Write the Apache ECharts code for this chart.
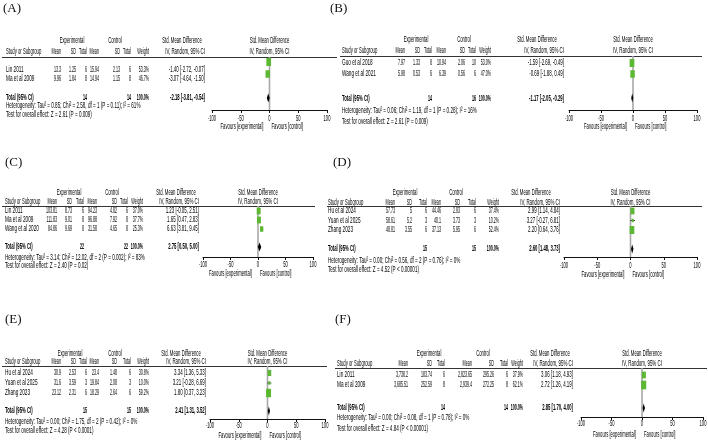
<!DOCTYPE html>
<html>
<head>
<meta charset="utf-8">
<script src="https://cdn.jsdelivr.net/npm/echarts@6/dist/echarts.min.js"></script>
<style>
  html, body { margin: 0; padding: 0; background: #fff; }
  #main { width: 708px; height: 440px; }
</style>
</head>
<body>
<div id="main"></div>
<script>
// ---- data ----
// (A)
const studiesA = ['Lin 2011', 'Ma et al 2009'];
const expA = [['13.3', '1.25', '6'], ['9.96', '1.84', '8']];
const ctlA = [['15.94', '2.13', '6'], ['14.94', '1.15', '8']];
const weightA = [53.3, 46.7];
const smdA = [[-1.40, -2.72, -0.07], [-3.07, -4.64, -1.50]];
const totalA = ['14', '14', -2.18, -3.81, -0.54];
const statsA = ['Heterogeneity: Tau² = 0.85; Chi² = 2.58, df = 1 (P = 0.11); I² = 61%', 'Test for overall effect: Z = 2.61 (P = 0.009)'];
// (B)
const studiesB = ['Guo et al 2018', 'Wang et al 2021'];
const expB = [['7.97', '1.33', '8'], ['5.98', '0.53', '6']];
const ctlB = [['10.94', '2.06', '10'], ['6.39', '0.56', '6']];
const weightB = [53.0, 47.0];
const smdB = [[-1.59, -2.69, -0.49], [-0.69, -1.88, 0.49]];
const totalB = ['14', '16', -1.17, -2.05, -0.29];
const statsB = ['Heterogeneity: Tau² = 0.06; Chi² = 1.19, df = 1 (P = 0.28); I² = 16%', 'Test for overall effect: Z = 2.61 (P = 0.009)'];
// (C)
const studiesC = ['Lin 2011', 'Ma et al 2009', 'Wang et al 2020'];
const expC = [['103.81', '8.73', '6'], ['111.83', '9.01', '8'], ['84.86', '9.69', '8']];
const ctlC = [['94.23', '4.82', '6'], ['96.88', '7.92', '8'], ['31.58', '4.65', '8']];
const weightC = [37.0, 37.7, 25.3];
const smdC = [[1.23, -0.05, 2.51], [1.65, 0.47, 2.83], [6.63, 3.81, 9.45]];
const totalC = ['22', '22', 2.75, 0.50, 5.00];
const statsC = ['Heterogeneity: Tau² = 3.14; Chi² = 12.02, df = 2 (P = 0.002); I² = 83%', 'Test for overall effect: Z = 2.40 (P = 0.02)'];
// (D)
const studiesD = ['Hu et al 2024', 'Yuan et al 2025', 'Zhang 2023'];
const expD = [['57.73', '5', '6'], ['58.61', '5.2', '3'], ['48.81', '3.55', '6']];
const ctlD = [['44.46', '2.93', '6'], ['40.1', '3.73', '3'], ['37.13', '5.95', '6']];
const weightD = [37.4, 10.2, 52.4];
const smdD = [[2.99, 1.14, 4.84], [3.27, -0.27, 6.81], [2.20, 0.64, 3.76]];
const totalD = ['15', '15', 2.60, 1.48, 3.73];
const statsD = ['Heterogeneity: Tau² = 0.00; Chi² = 0.56, df = 2 (P = 0.76); I² = 0%', 'Test for overall effect: Z = 4.52 (P < 0.00001)'];
// (E)
const studiesE = ['Hu et al 2024', 'Yuan et al 2025', 'Zhang 2023'];
const expE = [['30.9', '2.53', '6'], ['31.6', '3.59', '3'], ['23.12', '2.31', '6']];
const ctlE = [['23.4', '1.48', '6'], ['19.84', '2.08', '3'], ['18.29', '2.64', '6']];
const weightE = [30.8, 10.0, 59.2];
const smdE = [[3.34, 1.36, 5.33], [3.21, -0.28, 6.69], [1.80, 0.37, 3.23]];
const totalE = ['15', '15', 2.41, 1.31, 3.52];
const statsE = ['Heterogeneity: Tau² = 0.00; Chi² = 1.75, df = 2 (P = 0.42); I² = 0%', 'Test for overall effect: Z = 4.28 (P < 0.0001)'];
// (F)
const studiesF = ['Lin 2011', 'Ma et al 2009'];
const expF = [['3,738.2', '183.74', '6'], ['3,685.51', '252.59', '8']];
const ctlF = [['2,823.65', '295.26', '6'], ['2,939.4', '272.25', '8']];
const weightF = [37.9, 62.1];
const smdF = [[3.06, 1.18, 4.93], [2.72, 1.26, 4.19]];
const totalF = ['14', '14', 2.85, 1.70, 4.00];
const statsF = ['Heterogeneity: Tau² = 0.00; Chi² = 0.08, df = 1 (P = 0.78); I² = 0%', 'Test for overall effect: Z = 4.84 (P < 0.00001)'];

const axisTicks = [-100, -50, 0, 50, 100];
const colHeads = ['Mean', 'SD', 'Total', 'Mean', 'SD', 'Total', 'Weight', 'IV, Random, 95% CI'];
const groupHeads = ['Experimental', 'Control', 'Std. Mean Difference'];

// ---- layout (pixels) for each panel ----
// cols = right edges of the table columns, grid = [left, top, width, height] of the plot
// mark = [y of first study row, row step, slot of the total row]
const panels = [
  { tag: '(A)', lx: 3, ly: 9, data: [studiesA, expA, ctlA, weightA, smdA, totalA, statsA],
    left: 6, cols: [61, 76, 87, 99, 120, 131, 149, 205], grp: [72, 115, 182], line: [2, 337],
    head: [41, 52], rows: [70, 79], total: 98, stats: [106, 115],
    grid: [212, 57, 115, 53], mark: [62, 12, 4], tickY: 119, favY: 127 },
  { tag: '(B)', lx: 330, ly: 9, data: [studiesB, expB, ctlB, weightB, smdB, totalB, statsB],
    left: 342, cols: [405, 420, 432, 446, 465, 476, 491, 564], grp: [416, 464, 537], line: [340, 702],
    head: [40, 51], rows: [63, 74], total: 99, stats: [111, 122],
    grid: [569, 56, 128, 54], mark: [63, 11, 4.18], tickY: 119, favY: 127 },
  { tag: '(C)', lx: 5, ly: 163, data: [studiesC, expC, ctlC, weightC, smdC, totalC, statsC],
    left: 5, cols: [57, 72, 84, 97, 117, 128, 143, 199], grp: [69, 112, 176], line: [2, 315],
    head: [193, 202], rows: [211, 220, 229], total: 247, stats: [258, 266],
    grid: [203, 206, 110, 51], mark: [211, 9, 5], tickY: 265, favY: 274 },
  { tag: '(D)', lx: 333, ly: 163, data: [studiesD, expD, ctlD, weightD, smdD, totalD, statsD],
    left: 328, cols: [395, 412, 427, 441, 460, 476, 499, 560], grp: [405, 456, 531], line: [327, 702],
    head: [193, 203], rows: [211, 221, 230], total: 249, stats: [261, 270],
    grid: [564, 206, 133, 51], mark: [211, 9.5, 5], tickY: 266, favY: 275 },
  { tag: '(E)', lx: 5, ly: 320, data: [studiesE, expE, ctlE, weightE, smdE, totalE, statsE],
    left: 5, cols: [61, 76, 87, 99, 117, 131, 149, 206], grp: [70, 115, 181], line: [2, 327],
    head: [354, 362], rows: [373, 383, 393], total: 411, stats: [422, 431],
    grid: [210, 366, 115, 53], mark: [373, 10, 4.8], tickY: 426, favY: 436 },
  { tag: '(F)', lx: 335, ly: 320, data: [studiesF, expF, ctlF, weightF, smdF, totalF, statsF],
    left: 337, cols: [408, 432, 445, 472, 494, 508, 523, 573], grp: [429, 483, 550], line: [335, 707],
    head: [354, 364], rows: [375, 385], total: 408, stats: [418, 429],
    grid: [581, 368, 122, 49], mark: [375, 10, 4.3], tickY: 424, favY: 435 }
];

// horizontal squeeze of the (very condensed) table font, per kind of text
const FS = 9;
const SQ = { name: 0.52, head: 0.47, col: 0.42, num: 0.40, ci: 0.49, stats: 0.51, tick: 0.45 };
const FONT = 'Liberation Sans, Arial, sans-serif';
const INK = '#000';
const GREEN = '#5cb832';

const f2 = v => v.toFixed(2);
const ciText = (e, l, h) => f2(e) + ' [' + f2(l) + ', ' + f2(h) + ']';

function txt(x, y, s, align, sx, bold) {
  return {
    type: 'text', x: x, y: y, scaleX: sx, silent: true,
    style: {
      text: s, x: 0, y: 0, fill: INK,
      fontSize: FS, fontFamily: FONT, fontWeight: bold ? 'bold' : 'normal',
      textAlign: align, align: align, textVerticalAlign: 'middle', verticalAlign: 'middle'
    }
  };
}

const chart = echarts.init(document.getElementById('main'), null, { renderer: 'canvas' });

const grids = [], xAxes = [], yAxes = [], series = [], graphics = [];

panels.forEach((p, i) => {
  const [studies, exp, ctl, weight, smd, total, stats] = p.data;
  const [gl, gt, gw, gh] = p.grid;
  const [y1, step, tSlot] = p.mark;
  const yMin = 1 - (y1 - gt) / step;
  const yMax = 1 + (gt + gh - y1) / step;

  grids.push({ left: gl, top: gt, width: gw, height: gh, containLabel: false });
  xAxes.push({
    type: 'value', gridIndex: i, min: -100, max: 100, interval: 50,
    axisLine: { show: true, onZero: false, lineStyle: { color: '#111', width: 1 } },
    axisTick: { show: true, length: 3, lineStyle: { color: '#111', width: 1 } },
    axisLabel: { show: false }, splitLine: { show: false }
  });
  yAxes.push({ type: 'value', gridIndex: i, inverse: true, min: yMin, max: yMax, show: false });

  // line of no effect
  series.push({
    type: 'line', xAxisIndex: i, yAxisIndex: i, symbol: 'none', silent: true, z: 1,
    data: [[0, yMin], [0, yMax]],
    lineStyle: { color: '#a8a8a8', width: 1.6 }
  });

  // study squares + CI lines, pooled diamond
  const items = smd.map((s, k) => [s[0], s[1], s[2], k + 1, weight[k], 0]);
  items.push([total[2], total[3], total[4], tSlot, 0, 1]);
  series.push({
    type: 'custom', xAxisIndex: i, yAxisIndex: i, z: 3, clip: false,
    encode: { x: [0, 1, 2], y: 3 },
    data: items,
    renderItem: function (params, api) {
      const slot = api.value(3);
      const c = api.coord([api.value(0), slot]);
      const lo = api.coord([api.value(1), slot]);
      const hi = api.coord([api.value(2), slot]);
      if (api.value(5) === 1) {
        return {
          type: 'polygon',
          shape: { points: [[lo[0] - 0.5, c[1]], [c[0], c[1] - 4.5], [hi[0] + 0.5, c[1]], [c[0], c[1] + 4.5]] },
          style: { fill: '#000' }
        };
      }
      const w = Math.sqrt(api.value(4));
      const bw = 0.65 * w, bh = 1.1 * w;
      return {
        type: 'group',
        children: [
          { type: 'line', shape: { x1: lo[0], y1: c[1], x2: hi[0], y2: c[1] }, style: { stroke: '#333', lineWidth: 1 } },
          { type: 'rect', shape: { x: c[0] - bw / 2, y: c[1] - bh / 2, width: bw, height: bh }, style: { fill: GREEN } }
        ]
      };
    }
  });

  // table text
  graphics.push({
    type: 'text', x: p.lx, y: p.ly, silent: true,
    style: { text: p.tag, x: 0, y: 0, fill: '#111', fontSize: 13, fontFamily: 'Liberation Serif, Times New Roman, serif',
      textAlign: 'left', align: 'left', textVerticalAlign: 'middle', verticalAlign: 'middle' }
  });
  graphics.push(txt(p.grp[0], p.head[0], groupHeads[0], 'center', SQ.head));
  graphics.push(txt(p.grp[1], p.head[0], groupHeads[1], 'center', SQ.head));
  graphics.push(txt(p.grp[2], p.head[0], groupHeads[2], 'center', SQ.head));
  graphics.push(txt(p.left, p.head[1], 'Study or Subgroup', 'left', SQ.head));
  colHeads.forEach((h, k) => graphics.push(txt(p.cols[k], p.head[1], h, 'right', k === 7 ? SQ.ci : SQ.col)));
  graphics.push({
    type: 'line', silent: true,
    shape: { x1: p.line[0], y1: gt + 0.5, x2: p.line[1], y2: gt + 0.5 },
    style: { stroke: '#333', lineWidth: 1 }
  });
  studies.forEach((s, k) => {
    const y = p.rows[k];
    const cells = exp[k].concat(ctl[k], [weight[k].toFixed(1) + '%']);
    graphics.push(txt(p.left, y, s, 'left', SQ.name));
    cells.forEach((v, j) => graphics.push(txt(p.cols[j], y, v, 'right', SQ.num)));
    graphics.push(txt(p.cols[7], y, ciText(smd[k][0], smd[k][1], smd[k][2]), 'right', SQ.ci));
  });
  graphics.push(txt(p.left, p.total, 'Total (95% CI)', 'left', SQ.head, true));
  graphics.push(txt(p.cols[2], p.total, total[0], 'right', SQ.num, true));
  graphics.push(txt(p.cols[5], p.total, total[1], 'right', SQ.num, true));
  graphics.push(txt(p.cols[6], p.total, '100.0%', 'right', SQ.num, true));
  graphics.push(txt(p.cols[7], p.total, ciText(total[2], total[3], total[4]), 'right', SQ.ci * 0.95, true));
  graphics.push(txt(p.left, p.stats[0], stats[0], 'left', SQ.stats));
  graphics.push(txt(p.left, p.stats[1], stats[1], 'left', SQ.stats));
});

chart.setOption({
  animation: false,
  backgroundColor: '#fff',
  grid: grids, xAxis: xAxes, yAxis: yAxes, series: series
});

// tick labels and plot headers placed with the axes' own scale
panels.forEach((p, i) => {
  const zx = chart.convertToPixel({ xAxisIndex: i }, 0);
  axisTicks.forEach(t => {
    graphics.push(txt(chart.convertToPixel({ xAxisIndex: i }, t), p.tickY, String(t), 'center', SQ.tick));
  });
  graphics.push(txt(zx, p.head[0], groupHeads[2], 'center', SQ.head));
  graphics.push(txt(zx, p.head[1], colHeads[7], 'center', SQ.ci));
  graphics.push(txt(zx - 6, p.favY, 'Favours [experimental]', 'right', SQ.head));
  graphics.push(txt(zx + 2, p.favY, 'Favours [control]', 'left', SQ.head));
});

chart.setOption({ graphic: { elements: graphics } });
</script>
</body>
</html>
